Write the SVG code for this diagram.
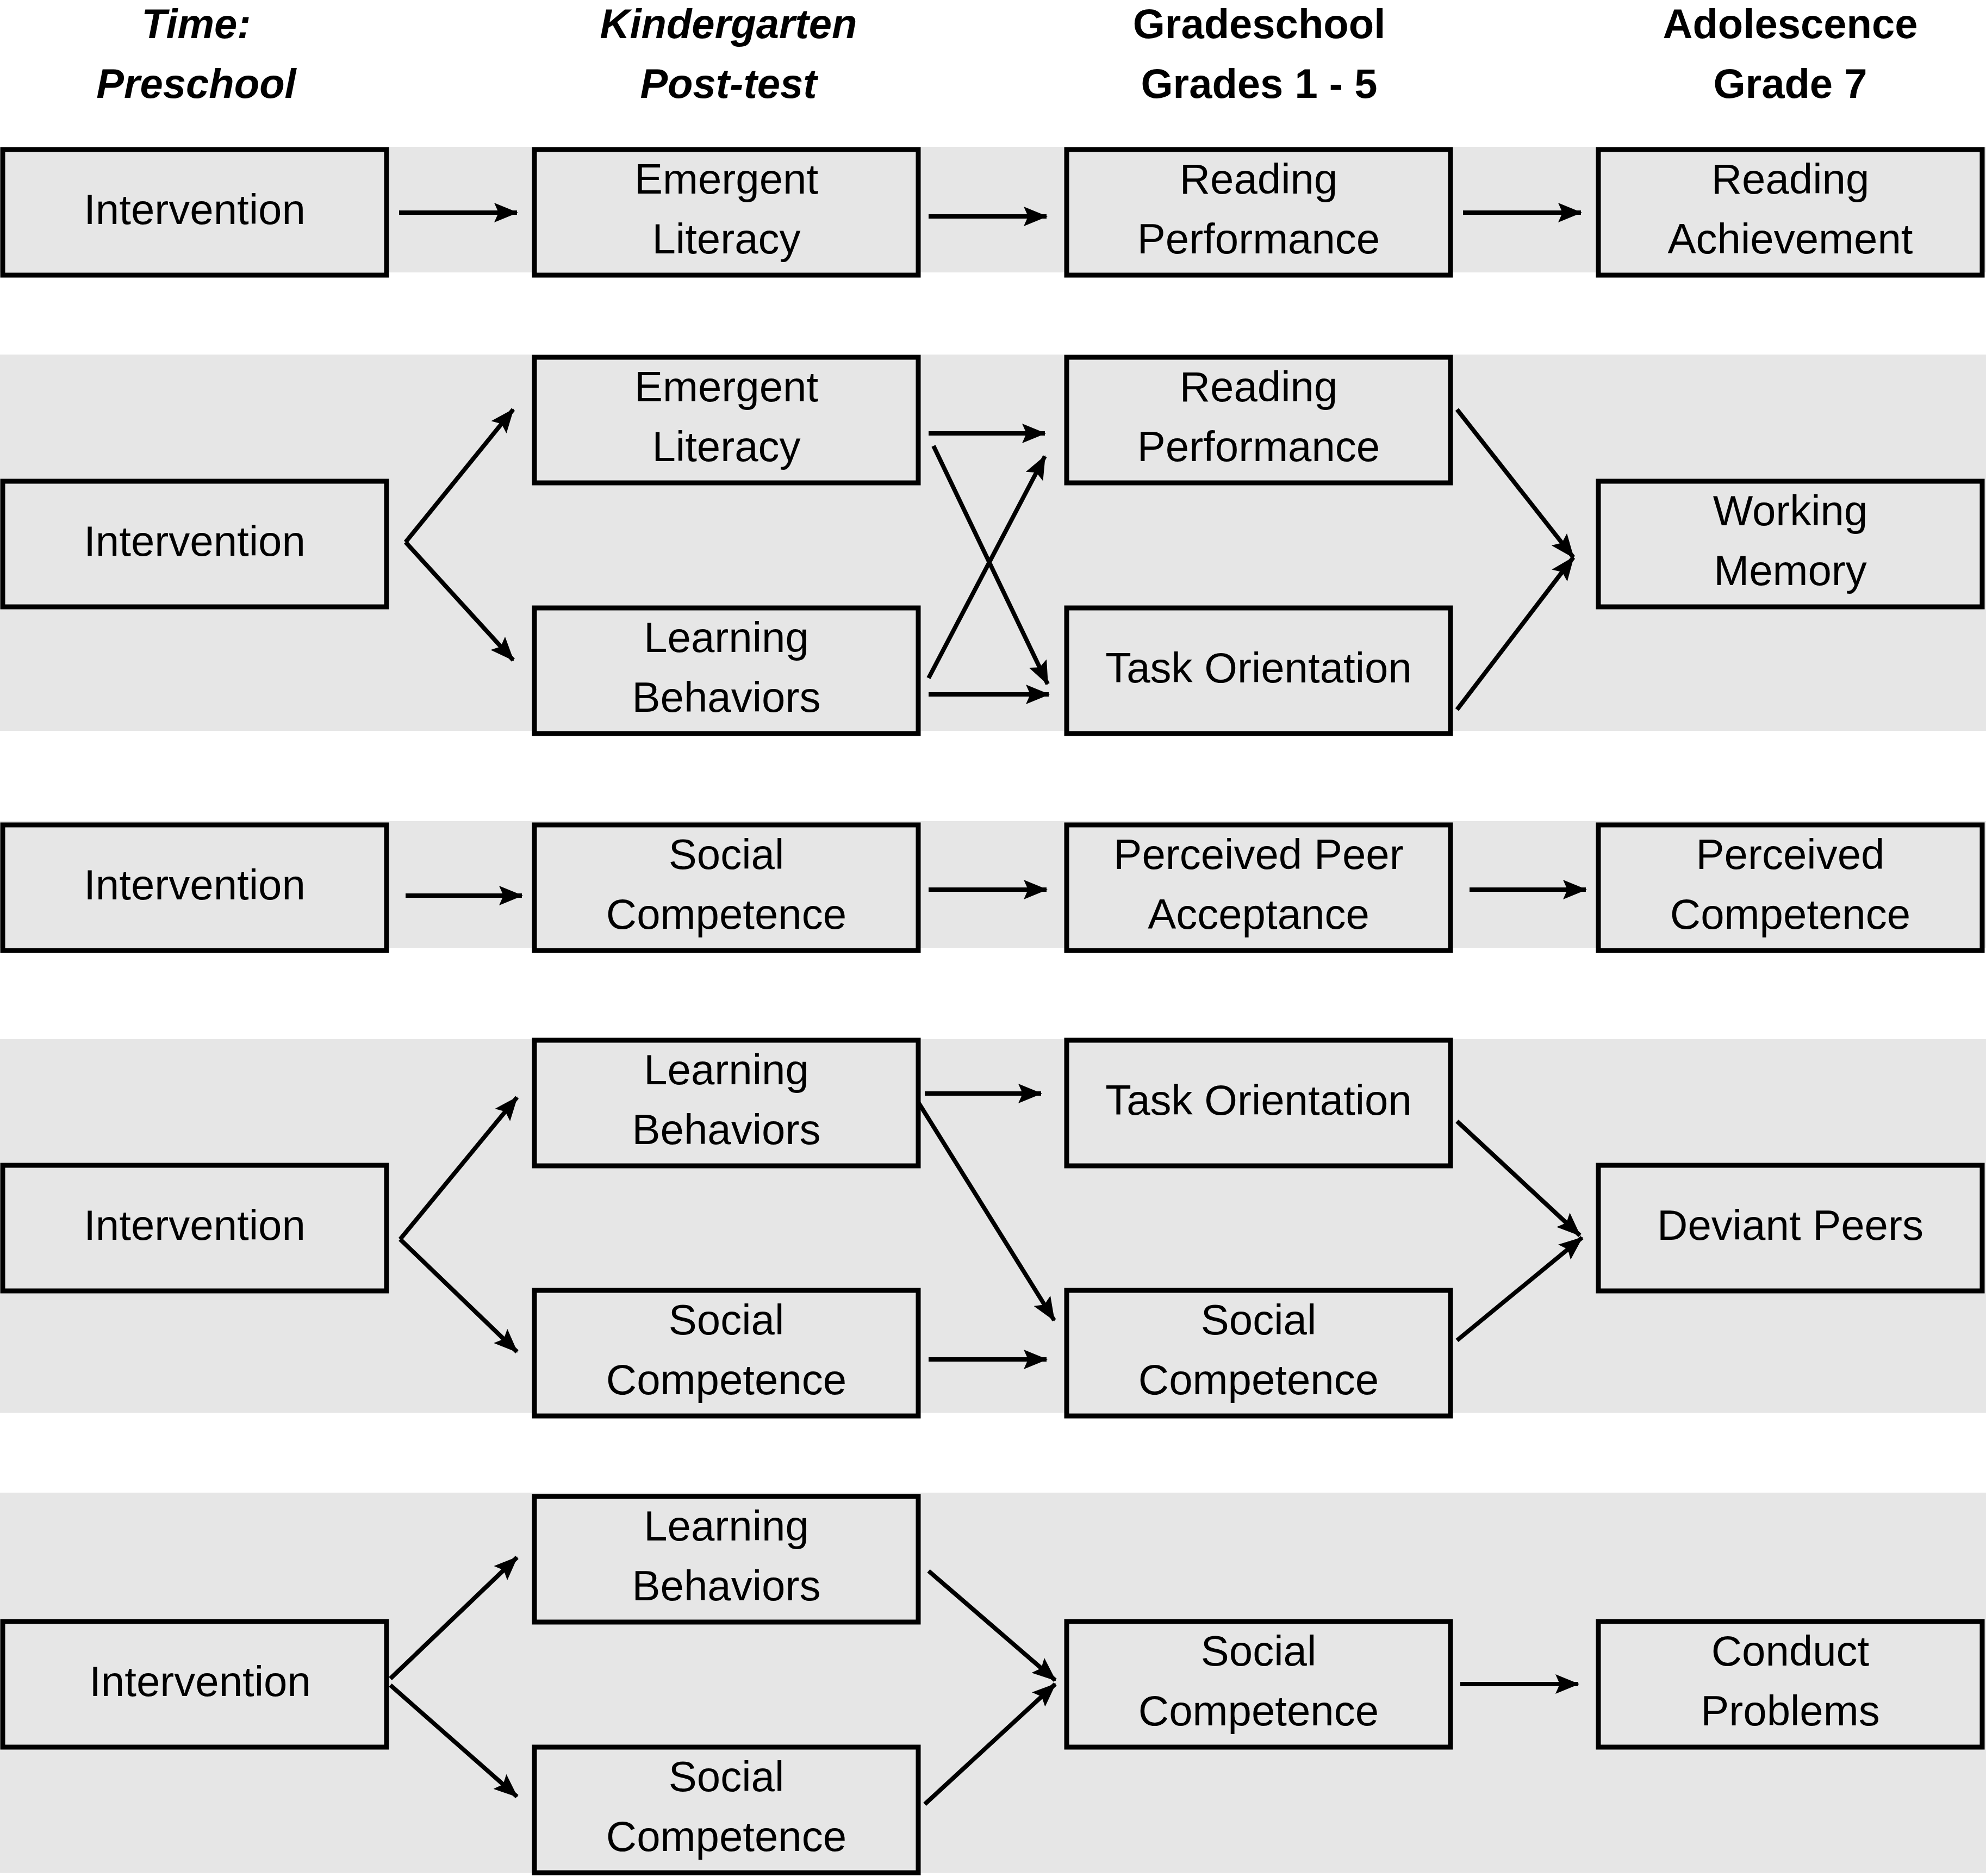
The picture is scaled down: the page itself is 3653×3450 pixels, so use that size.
<svg xmlns="http://www.w3.org/2000/svg" width="3653" height="3450" viewBox="0 0 3653 3450">
<style>
.band{fill:#e6e6e6}
.box{fill:#e6e6e6;stroke:#000;stroke-width:9}
.t{font-family:"Liberation Sans",Arial,sans-serif;font-size:78px;text-anchor:middle;fill:#000}
.h{font-family:"Liberation Sans",Arial,sans-serif;font-size:76px;font-weight:bold;text-anchor:middle;fill:#000}
.i{font-style:italic}
.c line{stroke:#000;stroke-width:8;marker-end:url(#a)}
</style>
<defs><marker id="a" markerUnits="userSpaceOnUse" markerWidth="44" markerHeight="36" refX="42" refY="18" orient="auto"><path d="M0,0 L44,18 L0,36 L8,18 Z" fill="#000"/></marker></defs>
<rect width="3653" height="3450" fill="#fff"/>
<g id="bands">
<rect class="band" x="0" y="270" width="3653" height="231"/>
<rect class="band" x="0" y="652" width="3653" height="692"/>
<rect class="band" x="0" y="1510" width="3653" height="233"/>
<rect class="band" x="0" y="1911" width="3653" height="687"/>
<rect class="band" x="0" y="2745" width="3653" height="699"/>
</g>
<g id="headers">
<text class="h i" x="361" y="70">Time:</text><text class="h i" x="361" y="180">Preschool</text>
<text class="h i" x="1340" y="70">Kindergarten</text><text class="h i" x="1340" y="180">Post-test</text>
<text class="h" x="2316" y="70">Gradeschool</text><text class="h" x="2316" y="180">Grades 1 - 5</text>
<text class="h" x="3293" y="70">Adolescence</text><text class="h" x="3293" y="180">Grade 7</text>
</g>
<g id="r1n1"><rect class="box" x="5" y="275" width="706" height="231"/><text class="t" x="358" y="412">Intervention</text></g>
<g id="r1n2"><rect class="box" x="983" y="275" width="706" height="231"/><text class="t" x="1336" y="356">Emergent</text><text class="t" x="1336" y="466">Literacy</text></g>
<g id="r1n3"><rect class="box" x="1962" y="275" width="706" height="231"/><text class="t" x="2315" y="356">Reading</text><text class="t" x="2315" y="466">Performance</text></g>
<g id="r1n4"><rect class="box" x="2940" y="275" width="706" height="231"/><text class="t" x="3293" y="356">Reading</text><text class="t" x="3293" y="466">Achievement</text></g>

<g id="r2n1"><rect class="box" x="5" y="885" width="706" height="231"/><text class="t" x="358" y="1022">Intervention</text></g>
<g id="r2n2"><rect class="box" x="983" y="657" width="706" height="231"/><text class="t" x="1336" y="738">Emergent</text><text class="t" x="1336" y="848">Literacy</text></g>
<g id="r2n3"><rect class="box" x="983" y="1118" width="706" height="231"/><text class="t" x="1336" y="1199">Learning</text><text class="t" x="1336" y="1309">Behaviors</text></g>
<g id="r2n4"><rect class="box" x="1962" y="657" width="706" height="231"/><text class="t" x="2315" y="738">Reading</text><text class="t" x="2315" y="848">Performance</text></g>
<g id="r2n5"><rect class="box" x="1962" y="1118" width="706" height="231"/><text class="t" x="2315" y="1255">Task Orientation</text></g>
<g id="r2n6"><rect class="box" x="2940" y="885" width="706" height="231"/><text class="t" x="3293" y="966">Working</text><text class="t" x="3293" y="1076">Memory</text></g>

<g id="r3n1"><rect class="box" x="5" y="1517" width="706" height="231"/><text class="t" x="358" y="1654">Intervention</text></g>
<g id="r3n2"><rect class="box" x="983" y="1517" width="706" height="231"/><text class="t" x="1336" y="1598">Social</text><text class="t" x="1336" y="1708">Competence</text></g>
<g id="r3n3"><rect class="box" x="1962" y="1517" width="706" height="231"/><text class="t" x="2315" y="1598">Perceived Peer</text><text class="t" x="2315" y="1708">Acceptance</text></g>
<g id="r3n4"><rect class="box" x="2940" y="1517" width="706" height="231"/><text class="t" x="3293" y="1598">Perceived</text><text class="t" x="3293" y="1708">Competence</text></g>

<g id="r4n1"><rect class="box" x="5" y="2143" width="706" height="231"/><text class="t" x="358" y="2280">Intervention</text></g>
<g id="r4n2"><rect class="box" x="983" y="1913" width="706" height="231"/><text class="t" x="1336" y="1994">Learning</text><text class="t" x="1336" y="2104">Behaviors</text></g>
<g id="r4n3"><rect class="box" x="983" y="2373" width="706" height="231"/><text class="t" x="1336" y="2454">Social</text><text class="t" x="1336" y="2564">Competence</text></g>
<g id="r4n4"><rect class="box" x="1962" y="1913" width="706" height="231"/><text class="t" x="2315" y="2050">Task Orientation</text></g>
<g id="r4n5"><rect class="box" x="1962" y="2373" width="706" height="231"/><text class="t" x="2315" y="2454">Social</text><text class="t" x="2315" y="2564">Competence</text></g>
<g id="r4n6"><rect class="box" x="2940" y="2143" width="706" height="231"/><text class="t" x="3293" y="2280">Deviant Peers</text></g>

<g id="r5n1"><rect class="box" x="5" y="2982" width="706" height="231"/><text class="t" x="368" y="3119">Intervention</text></g>
<g id="r5n2"><rect class="box" x="983" y="2752" width="706" height="231"/><text class="t" x="1336" y="2833">Learning</text><text class="t" x="1336" y="2943">Behaviors</text></g>
<g id="r5n3"><rect class="box" x="983" y="3213" width="706" height="231"/><text class="t" x="1336" y="3294">Social</text><text class="t" x="1336" y="3404">Competence</text></g>
<g id="r5n4"><rect class="box" x="1962" y="2982" width="706" height="231"/><text class="t" x="2315" y="3063">Social</text><text class="t" x="2315" y="3173">Competence</text></g>
<g id="r5n5"><rect class="box" x="2940" y="2982" width="706" height="231"/><text class="t" x="3293" y="3063">Conduct</text><text class="t" x="3293" y="3173">Problems</text></g>

<g id="connectors" class="c">
<line x1="734" y1="391" x2="951" y2="391"/>
<line x1="1708" y1="398" x2="1925" y2="398"/>
<line x1="2691" y1="391" x2="2908" y2="391"/>
<line x1="746" y1="997" x2="944" y2="753"/>
<line x1="746" y1="997" x2="944" y2="1214"/>
<line x1="1708" y1="797" x2="1922" y2="797"/>
<line x1="1717" y1="820" x2="1927" y2="1258"/>
<line x1="1708" y1="1247" x2="1922" y2="839"/>
<line x1="1708" y1="1277" x2="1929" y2="1277"/>
<line x1="2680" y1="753" x2="2894" y2="1025"/>
<line x1="2680" y1="1305" x2="2894" y2="1025"/>
<line x1="746" y1="1647" x2="960" y2="1647"/>
<line x1="1708" y1="1636" x2="1925" y2="1636"/>
<line x1="2703" y1="1636" x2="2917" y2="1636"/>
<line x1="736" y1="2279" x2="951" y2="2018"/>
<line x1="736" y1="2279" x2="951" y2="2486"/>
<line x1="1701" y1="2011" x2="1915" y2="2011"/>
<line x1="1689" y1="2027" x2="1939" y2="2428"/>
<line x1="1708" y1="2500" x2="1925" y2="2500"/>
<line x1="2680" y1="2062" x2="2906" y2="2272"/>
<line x1="2680" y1="2465" x2="2910" y2="2276"/>
<line x1="718" y1="3087" x2="951" y2="2864"/>
<line x1="718" y1="3099" x2="951" y2="3304"/>
<line x1="1708" y1="2889" x2="1941" y2="3090"/>
<line x1="1701" y1="3318" x2="1941" y2="3097"/>
<line x1="2686" y1="3097" x2="2903" y2="3097"/>
</g>
</svg>
